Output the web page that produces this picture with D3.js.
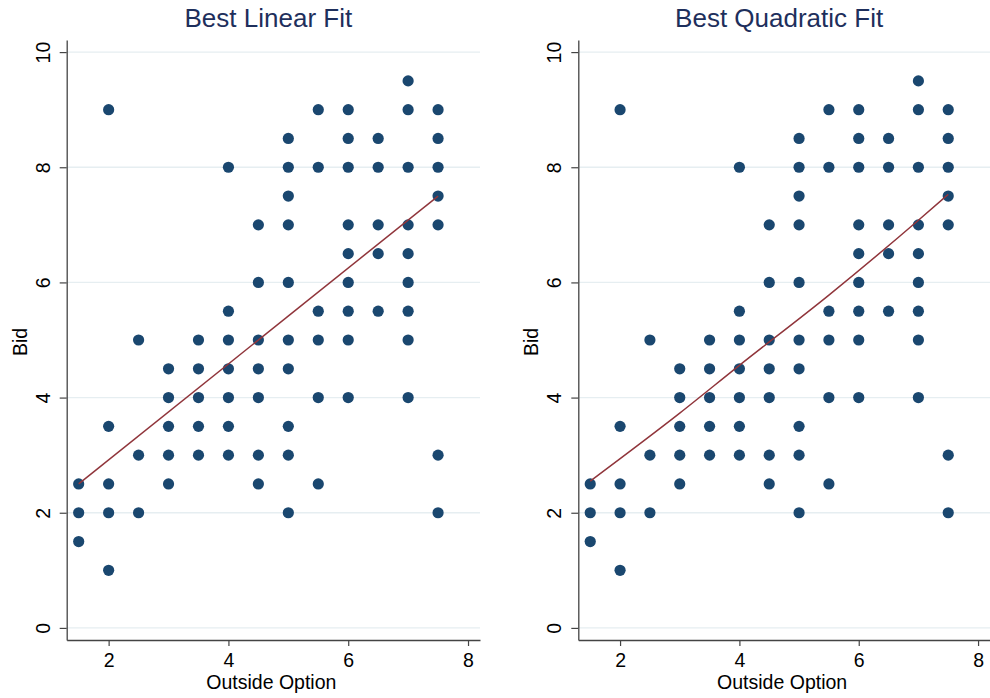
<!DOCTYPE html>
<html lang="en">
<head>
<meta charset="UTF-8">
<title>Best Fit</title>
<script src="https://d3js.org/d3.v7.min.js"></script>
<style>
  body { margin: 0; background: #fff; }
  text { font-family: "Liberation Sans", Arial, sans-serif; }
</style>
</head>
<body>
<div id="chart"></div>
<script>
var outsideOption = [1.5,1.5,1.5, 2,2,2,2,2, 2.5,2.5,2.5, 3,3,3,3,3, 3.5,3.5,3.5,3.5,3.5,
  4,4,4,4,4,4,4, 4.5,4.5,4.5,4.5,4.5,4.5,4.5, 5,5,5,5,5,5,5,5,5,5, 5.5,5.5,5.5,5.5,5.5,5.5,
  6,6,6,6,6,6,6,6,6, 6.5,6.5,6.5,6.5,6.5, 7,7,7,7,7,7,7,7,7, 7.5,7.5,7.5,7.5,7.5,7.5,7.5];
var bid = [2.5,2,1.5, 9,3.5,2.5,2,1, 5,3,2, 4.5,4,3.5,3,2.5, 5,4.5,4,3.5,3,
  8,5.5,5,4.5,4,3.5,3, 7,6,5,4.5,4,3,2.5, 8.5,8,7.5,7,6,5,4.5,3.5,3,2, 9,8,5.5,5,4,2.5,
  9,8.5,8,7,6.5,6,5.5,5,4, 8.5,8,7,6.5,5.5, 9.5,9,8,7,6.5,6,5.5,5,4, 9,8.5,8,7.5,7,3,2];

// fitted lines
var linearFitX = [1.5, 7.5];
var linearFitY = [2.5, 7.5];
var quadFitX = [1.5, 3, 4, 5.5, 7, 7.5];
var quadFitY = [2.55, 3.73, 4.56, 5.78, 7.08, 7.53];

var xTicks = [2, 4, 6, 8];
var yTicks = [0, 2, 4, 6, 8, 10];
var titles = ["Best Linear Fit", "Best Quadratic Fit"];

var W = 990, H = 698;
var svg = d3.select("#chart").append("svg")
    .attr("width", W)
    .attr("height", H);

var points = outsideOption.map(function(d, i) { return {x: d, y: bid[i]}; });

function drawPanel(left, right, title, fx, fy) {
  var top = 40, bottom = 640;
  var x = d3.scaleLinear().domain([1.3, 8.2]).range([left, right]);
  var y = d3.scaleLinear().domain([-0.21, 10.21]).range([bottom, top]);

  var g = svg.append("g");

  // grid
  g.selectAll(".grid").data(yTicks).enter().append("line")
    .attr("x1", left).attr("x2", right)
    .attr("y1", function(d) { return y(d); })
    .attr("y2", function(d) { return y(d); })
    .attr("stroke", "#e6eef1").attr("stroke-width", 1.3);

  // dots
  g.selectAll("circle").data(points).enter().append("circle")
    .attr("cx", function(d) { return x(d.x); })
    .attr("cy", function(d) { return y(d.y); })
    .attr("r", 5.6)
    .attr("fill", "#1a476f");

  // fit line
  var line = d3.line()
    .x(function(d) { return x(d[0]); })
    .y(function(d) { return y(d[1]); })
    .curve(d3.curveMonotoneX);
  g.append("path")
    .datum(fx.map(function(d, i) { return [d, fy[i]]; }))
    .attr("d", line)
    .attr("fill", "none")
    .attr("stroke", "#90353b")
    .attr("stroke-width", 1.5);

  // x axis
  var xa = g.append("g")
    .attr("transform", "translate(0," + bottom + ")")
    .call(d3.axisBottom(x).tickValues(xTicks).tickFormat(d3.format("d"))
      .tickSize(6).tickSizeOuter(0));
  xa.select(".domain").attr("stroke", "#444").attr("stroke-width", 1.3);
  xa.selectAll(".tick line").attr("stroke", "#444").attr("stroke-width", 1.2);
  xa.selectAll("text").attr("font-size", 19.5).attr("fill", "#000")
    .attr("font-family", "Liberation Sans, Arial, sans-serif")
    .attr("y", 27).attr("dy", null);

  // y axis
  var ya = g.append("g")
    .attr("transform", "translate(" + left + ",0)")
    .call(d3.axisLeft(y).tickValues(yTicks).tickFormat(d3.format("d"))
      .tickSize(7).tickSizeOuter(0));
  ya.select(".domain").attr("stroke", "#444").attr("stroke-width", 1.3);
  ya.selectAll(".tick line").attr("stroke", "#444").attr("stroke-width", 1.2);
  ya.selectAll("text")
    .attr("font-size", 19.5).attr("fill", "#000")
    .attr("font-family", "Liberation Sans, Arial, sans-serif")
    .attr("x", null).attr("dy", null)
    .attr("transform", "translate(-17,0) rotate(-90)")
    .attr("text-anchor", "middle")
    .attr("y", 0);

  // labels
  g.append("text")
    .attr("x", (left + right) / 2 - 2)
    .attr("y", 689)
    .attr("text-anchor", "middle")
    .attr("font-size", 19.5)
    .text("Outside Option");

  g.append("text")
    .attr("transform", "translate(" + (left - 40) + "," + ((top + bottom) / 2 + 2) + ") rotate(-90)")
    .attr("text-anchor", "middle")
    .attr("font-size", 19.5)
    .text("Bid");

  g.append("text")
    .attr("x", (left + right) / 2 - 5)
    .attr("y", 27)
    .attr("text-anchor", "middle")
    .attr("font-size", 26)
    .attr("fill", "#1e2f5c")
    .text(title);
}

drawPanel(66.7, 480, titles[0], linearFitX, linearFitY);
drawPanel(578.3, 990, titles[1], quadFitX, quadFitY);
</script>
</body>
</html>
